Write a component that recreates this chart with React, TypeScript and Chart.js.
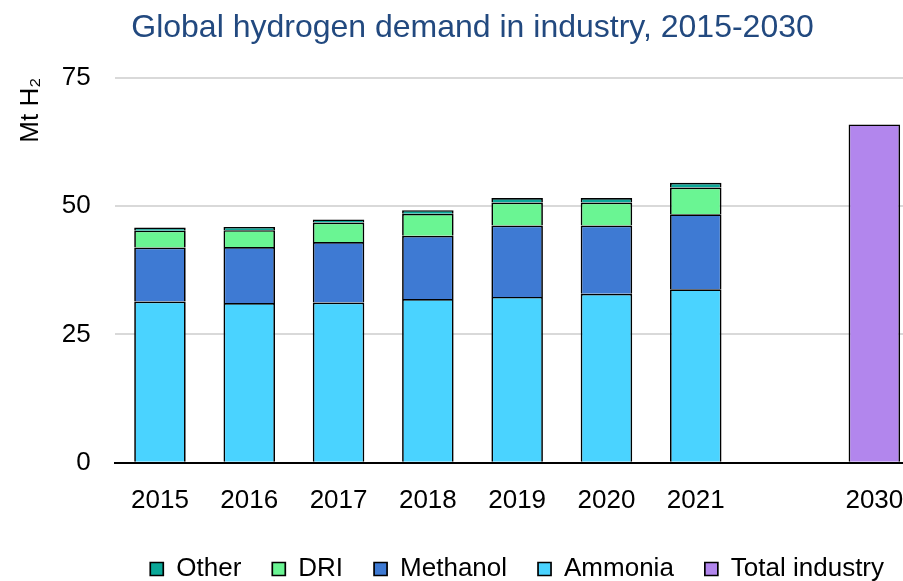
import React, { useEffect, useRef } from 'react';
import { Chart, registerables } from 'chart.js';

Chart.register(...registerables);

const categories = ['2015', '2016', '2017', '2018', '2019', '2020', '2021', '', '2030'];
const ammonia = [31.4, 31.1, 31.2, 31.9, 32.3, 32.9, 33.8, null, null];
const methanol = [10.5, 10.9, 11.8, 12.3, 13.9, 13.3, 14.6, null, null];
const dri = [3.3, 3.3, 3.8, 4.3, 4.5, 4.5, 5.2, null, null];
const other = [0.6, 0.6, 0.6, 0.7, 0.85, 0.85, 0.95, null, null];
const totalIndustry = [null, null, null, null, null, null, null, null, 65.9];
const yMin = 0;
const yMax = 75;
const yStep = 25;
const legendOrder = ['Other', 'DRI', 'Methanol', 'Ammonia', 'Total industry'];

const FONT = "'Liberation Sans', Arial, Helvetica, sans-serif";

export default function App() {
  const ref = useRef<HTMLCanvasElement | null>(null);

  useEffect(() => {
    if (!ref.current) return;
    const common = {
      borderColor: '#000000',
      borderWidth: 1.7,
      barPercentage: 0.577,
      categoryPercentage: 1.0,
    };
    const chart = new Chart(ref.current, {
      type: 'bar',
      data: {
        labels: categories,
        datasets: [
          { label: 'Ammonia', data: ammonia, backgroundColor: '#4AD3FF', ...common },
          { label: 'Methanol', data: methanol, backgroundColor: '#3E7AD3', ...common },
          { label: 'DRI', data: dri, backgroundColor: '#6AF593', ...common },
          { label: 'Other', data: other, backgroundColor: '#0AA898', ...common },
          { label: 'Total industry', data: totalIndustry, backgroundColor: '#B286ED', ...common },
        ],
      },
      options: {
        animation: false,
        responsive: false,
        devicePixelRatio: 1,
        layout: { padding: { left: 26, right: 26, top: 0, bottom: 0 } },
        scales: {
          x: {
            stacked: true,
            grid: { display: false, drawTicks: false },
            border: { display: true, color: '#000000', width: 2, z: 1 },
            ticks: {
              color: '#000000',
              font: { family: FONT, size: 26, lineHeight: 1.846 },
              padding: 14.3,
              maxRotation: 0,
              autoSkip: false,
            },
            afterFit: (scale: any) => {
              scale.height = 62.3;
            },
          },
          y: {
            stacked: true,
            min: yMin,
            max: yMax,
            grid: { color: '#D9D9D9', lineWidth: 2, drawTicks: false },
            border: { display: false },
            ticks: {
              stepSize: yStep,
              color: '#000000',
              font: { family: FONT, size: 26 },
              padding: 24.6,
            },
            title: {
              display: true,
              text: 'Mt H₂',
              align: 'end',
              color: '#000000',
              font: { family: FONT, size: 26 },
              padding: { top: -10.4, bottom: 15 },
            },
            afterFit: (scale: any) => {
              scale.width = 89.3;
            },
          },
        },
        plugins: {
          tooltip: { enabled: false },
          title: {
            display: true,
            text: 'Global hydrogen demand in industry, 2015-2030',
            color: '#22497F',
            font: { family: FONT, size: 32, weight: 'normal' },
            padding: { top: 9, bottom: 30.3 },
          },
          legend: {
            position: 'bottom',
            fullSize: false,
            labels: {
              color: '#000000',
              font: { family: FONT, size: 26 },
              boxWidth: 13,
              boxHeight: 13,
              padding: 31,
              sort: (a: any, b: any) => legendOrder.indexOf(a.text) - legendOrder.indexOf(b.text),
            },
          },
        },
      },
    });
    return () => chart.destroy();
  }, []);

  return (
    <div
      style={{
        position: 'absolute',
        left: 0,
        top: 0,
        width: 903,
        height: 581,
        overflow: 'hidden',
        background: '#ffffff',
      }}
    >
      <canvas ref={ref} width={945} height={592} style={{ display: 'block', width: 945, height: 592 }} />
    </div>
  );
}
